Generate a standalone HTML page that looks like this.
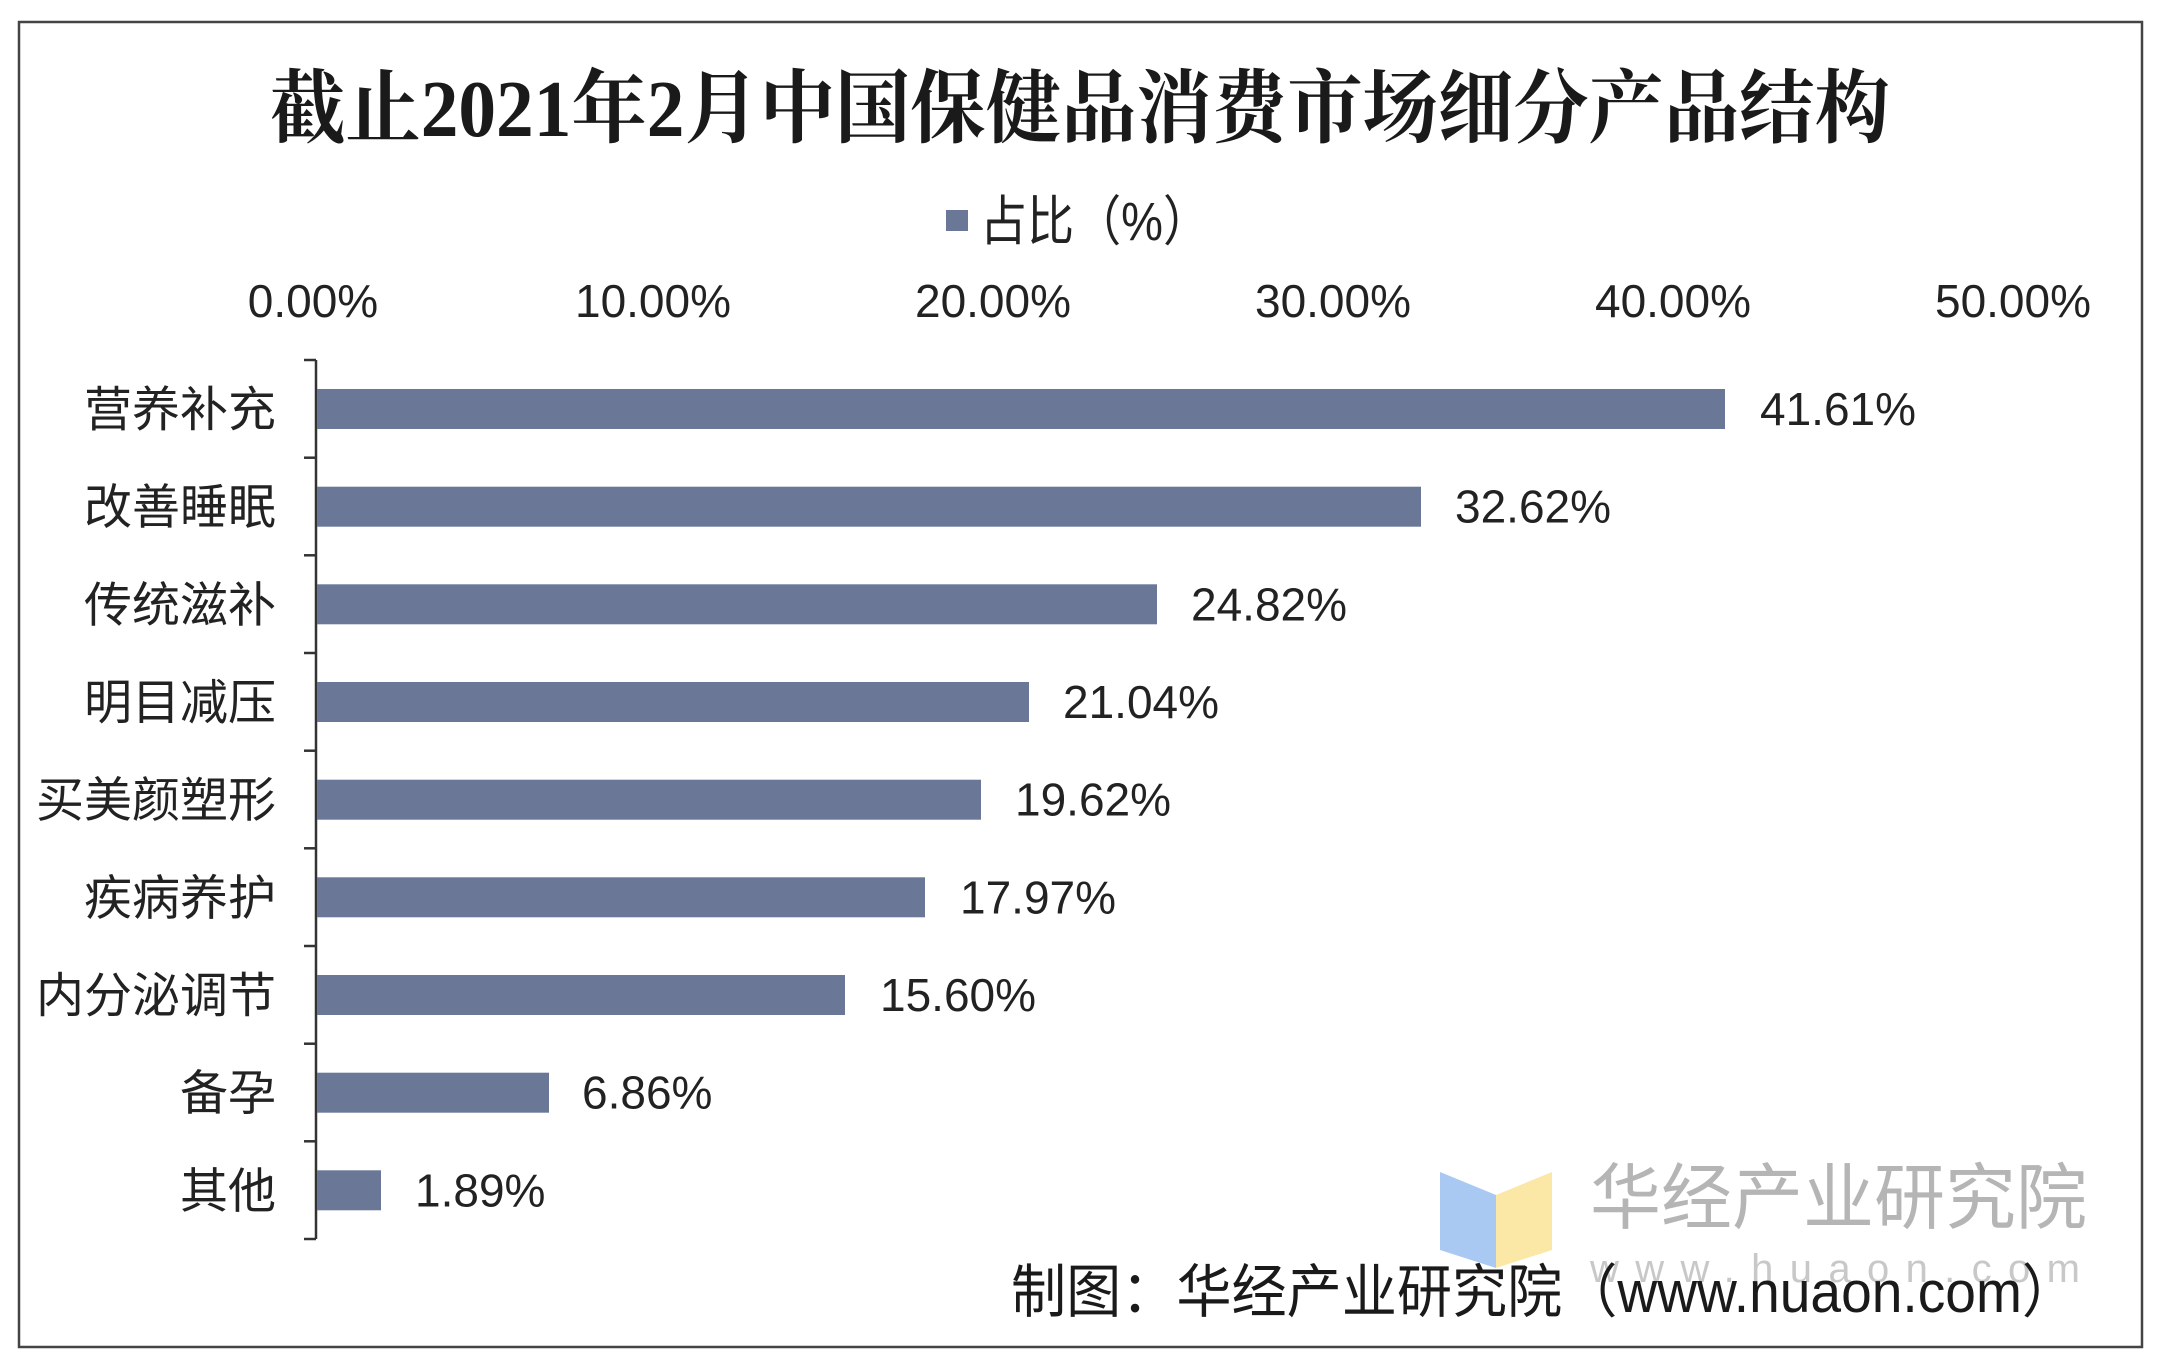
<!DOCTYPE html>
<html><head><meta charset="utf-8"><style>
html,body{margin:0;padding:0;background:#fff;}
svg{display:block;}
</style></head><body>
<svg width="2160" height="1364" viewBox="0 0 2160 1364" xmlns="http://www.w3.org/2000/svg">
<rect x="0" y="0" width="2160" height="1364" fill="#fff"/>
<rect x="19" y="22" width="2123" height="1325" fill="none" stroke="#444" stroke-width="2.5"/>
<text x="1080" y="136" text-anchor="middle" font-family="'Liberation Serif','Noto Serif CJK SC',serif" font-weight="bold" font-size="80" fill="#1a1a1a" textLength="1620" lengthAdjust="spacingAndGlyphs">截止2021年2月中国保健品消费市场细分产品结构</text>
<rect x="946" y="210" width="22" height="21" fill="#6a7797"/>
<text x="980" y="240" font-family="'Liberation Sans','Noto Sans CJK SC',sans-serif" font-size="54" fill="#222" textLength="230" lengthAdjust="spacingAndGlyphs">占比（%）</text>
<g font-family="'Liberation Sans',sans-serif" font-size="46" fill="#222" text-anchor="middle">
<text x="313" y="317">0.00%</text>
<text x="653" y="317">10.00%</text>
<text x="993" y="317">20.00%</text>
<text x="1333" y="317">30.00%</text>
<text x="1673" y="317">40.00%</text>
<text x="2013" y="317">50.00%</text>
</g>
<g stroke="#333" stroke-width="2.5">
<line x1="316" y1="360" x2="316" y2="1239"/>
<line x1="304" y1="360" x2="316" y2="360"/>
<line x1="304" y1="457.7" x2="316" y2="457.7"/>
<line x1="304" y1="555.3" x2="316" y2="555.3"/>
<line x1="304" y1="653" x2="316" y2="653"/>
<line x1="304" y1="750.7" x2="316" y2="750.7"/>
<line x1="304" y1="848.3" x2="316" y2="848.3"/>
<line x1="304" y1="946" x2="316" y2="946"/>
<line x1="304" y1="1043.7" x2="316" y2="1043.7"/>
<line x1="304" y1="1141.3" x2="316" y2="1141.3"/>
<line x1="304" y1="1239" x2="316" y2="1239"/>
</g>
<g fill="#6a7797">
<rect x="317" y="389" width="1408" height="40"/>
<rect x="317" y="486.7" width="1104" height="40"/>
<rect x="317" y="584.3" width="840" height="40"/>
<rect x="317" y="682" width="712" height="40"/>
<rect x="317" y="779.7" width="664" height="40"/>
<rect x="317" y="877.3" width="608" height="40"/>
<rect x="317" y="975" width="528" height="40"/>
<rect x="317" y="1072.7" width="232" height="40"/>
<rect x="317" y="1170.3" width="64" height="40"/>
</g>
<g font-family="'Liberation Sans',sans-serif" font-size="46" fill="#222">
<text x="1760" y="425">41.61%</text>
<text x="1455" y="522.7">32.62%</text>
<text x="1191" y="620.3">24.82%</text>
<text x="1063" y="718">21.04%</text>
<text x="1015" y="815.7">19.62%</text>
<text x="960" y="913.3">17.97%</text>
<text x="880" y="1011">15.60%</text>
<text x="582" y="1108.7">6.86%</text>
<text x="415" y="1206.3">1.89%</text>
</g>
<g font-family="'Liberation Sans','Noto Sans CJK SC',sans-serif" font-size="48" fill="#222" text-anchor="end">
<text x="276" y="426">营养补充</text>
<text x="276" y="523.7">改善睡眠</text>
<text x="276" y="621.3">传统滋补</text>
<text x="276" y="719">明目减压</text>
<text x="276" y="816.7">买美颜塑形</text>
<text x="276" y="914.3">疾病养护</text>
<text x="276" y="1012">内分泌调节</text>
<text x="276" y="1109.7">备孕</text>
<text x="276" y="1207.3">其他</text>
</g>
<polygon points="1440,1172 1496,1195 1496,1268 1440,1250" fill="#a9c8f2"/>
<polygon points="1496,1195 1552,1172 1552,1250 1496,1268" fill="#fbe7a6"/>
<text x="1590" y="1223" font-family="'Liberation Sans','Noto Sans CJK SC',sans-serif" font-size="72" fill="#b5b5b5" textLength="497" lengthAdjust="spacingAndGlyphs">华经产业研究院</text>
<text x="1590" y="1282" font-family="'Liberation Sans',sans-serif" font-size="40" fill="#c8c8c8" textLength="490" lengthAdjust="spacing">www.huaon.com</text>
<text x="1011" y="1312" font-family="'Liberation Sans','Noto Sans CJK SC',sans-serif" font-size="58" fill="#1a1a1a" textLength="1066" lengthAdjust="spacingAndGlyphs">制图：华经产业研究院（www.nuaon.com）</text>
</svg>
</body></html>
